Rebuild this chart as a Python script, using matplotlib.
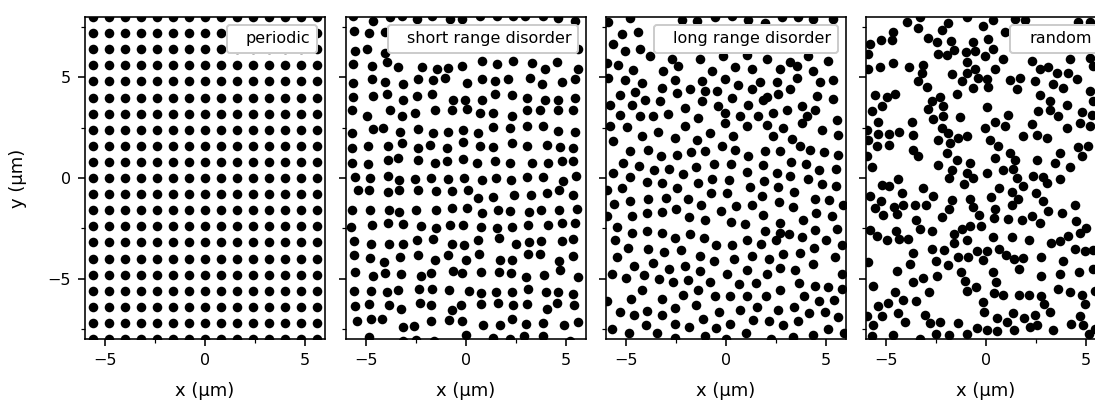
import numpy as np
import matplotlib.pyplot as plt
from matplotlib.ticker import MultipleLocator

# periodic lattice (µm)
periodic_cols = [-5.6, -4.8, -4.0, -3.2, -2.4, -1.6, -0.8, 0.0, 0.8, 1.6, 2.4, 3.2, 4.0, 4.8, 5.6]
periodic_rows = [-8.0, -7.2, -6.4, -5.6, -4.8, -4.0, -3.2, -2.4, -1.6, -0.8, 0.0,
                 0.8, 1.6, 2.4, 3.2, 4.0, 4.8, 5.6, 6.4, 7.2, 8.0]

# short range disorder, particle centres (x, y) in µm
short_range = [
    (-5.63, 8.03), (-4.63, 7.82), (-3.8, 7.98), (-3.22, 8.03), (-2.47, 7.9), (-1.72, 8.03), (-0.8, 7.9),
    (-0.22, 7.9), (0.7, 8.07), (1.53, 8.03), (2.37, 8.07), (2.95, 8.03), (3.87, 8.07), (4.62, 7.93), (5.45, 7.82),
    (-5.6, 7.32), (-4.83, 7.2), (-4.05, 7.23),
    (-5.55, 6.32), (-4.93, 6.4), (-4.05, 6.23), (5.62, 6.43),
    (-5.63, 5.65), (-4.72, 5.57), (-3.97, 5.77), (-3.38, 5.53), (-2.22, 5.53), (-1.47, 5.4), (-0.88, 5.48),
    (-0.22, 5.57), (0.78, 5.82), (1.53, 5.65), (2.37, 5.82), (3.28, 5.73), (3.95, 5.4), (4.53, 5.77), (5.62, 5.4),
    (-5.63, 4.73), (-4.72, 4.9), (-4.05, 4.77), (-3.13, 4.65), (-2.38, 4.9), (-1.63, 4.87), (-1.05, 4.98),
    (0.03, 4.7), (0.78, 4.9), (1.45, 4.82), (2.12, 4.93), (3.2, 4.98), (3.78, 4.65), (4.78, 4.77), (5.45, 4.9),
    (-5.63, 4.03), (-4.63, 4.07), (-3.97, 4.15), (-3.13, 3.9), (-2.47, 4.07), (-1.72, 4.15), (-0.63, 3.87),
    (-0.05, 3.9), (0.78, 3.9), (1.45, 4.15), (2.28, 4.1), (3.03, 3.98), (3.95, 3.87), (4.62, 3.9), (5.45, 3.98),
    (-5.72, 3.4), (-4.97, 3.1), (-3.8, 3.37), (-3.22, 3.07), (-2.55, 3.23), (-1.55, 3.4), (-0.72, 3.4),
    (0.03, 3.43), (0.7, 3.23), (1.37, 3.23), (2.28, 3.1), (3.03, 3.4), (3.7, 3.37), (4.62, 3.4), (5.37, 3.4),
    (-5.72, 2.23), (-4.63, 2.43), (-4.17, 2.48), (-3.3, 2.27), (-2.38, 2.43), (-1.63, 2.23), (-0.88, 2.27),
    (-0.13, 2.4), (0.62, 2.23), (1.37, 2.53), (2.2, 2.48), (3.03, 2.6), (3.87, 2.57), (4.62, 2.32), (5.45, 2.27),
    (-5.72, 1.48), (-4.88, 1.57), (-3.88, 1.57), (-3.22, 1.73), (-2.38, 1.48), (-1.8, 1.65), (-0.97, 1.48),
    (-0.13, 1.77), (0.7, 1.57), (1.37, 1.53), (2.28, 1.73), (3.03, 1.57), (4.03, 1.65), (4.7, 1.53), (5.37, 1.48),
    (-5.72, 0.73), (-4.88, 0.7), (-3.88, 0.9), (-3.38, 0.98), (-2.38, 0.87), (-1.55, 0.73), (-0.97, 0.82),
    (-0.13, 0.93), (0.53, 0.73), (1.45, 0.82), (2.2, 0.73), (3.28, 0.77), (4.12, 0.73), (4.78, 0.82), (5.37, 0.82),
    (-5.55, 0.07), (-4.8, 0.02), (-3.88, 0.1), (-3.33, -0.1), (-2.55, -0.05), (-1.77, -0.02), (-0.88, -0.05),
    (-0.1, -0.02), (0.82, -0.1), (1.48, -0.02), (2.23, -0.1), (3.07, 0.07), (3.87, 0.07), (4.83, -0.15), (5.48, 0.12),
    (-5.38, -0.6), (-4.83, -0.6), (-3.88, -0.68), (-3.33, -0.6), (-2.38, -0.6), (-1.5, -0.65), (-0.72, -0.65),
    (0.12, -0.6), (0.58, -0.98), (1.37, -0.95), (2.4, -0.85), (3.23, -0.82), (4.03, -0.77), (4.65, -0.6), (5.37, -0.82),
    (-5.72, -1.6), (-4.8, -1.57), (-3.87, -1.6), (-3.35, -1.68), (-2.52, -1.6), (-1.52, -1.6), (-0.68, -1.47),
    (0.07, -1.47), (0.78, -1.72), (1.58, -1.57), (2.2, -1.63), (3.15, -1.68), (3.75, -1.6), (4.65, -1.6), (5.53, -1.52),
    (-5.75, -2.43), (-4.72, -2.32), (-3.92, -2.22), (-3.13, -2.27), (-2.25, -2.4), (-1.52, -2.47), (-0.8, -2.35),
    (-0.13, -2.35), (0.73, -2.43), (1.57, -2.47), (2.32, -2.43), (3.12, -2.35), (4.12, -2.35), (4.78, -2.22), (5.45, -2.23),
    (-5.58, -3.13), (-4.75, -3.3), (-3.83, -3.27), (-3.13, -3.3), (-2.47, -3.1), (-1.63, -3.05), (-0.7, -3.28),
    (-0.08, -3.32), (0.58, -3.1), (1.63, -2.98), (2.5, -3.3), (3.17, -3.18), (3.73, -3.15), (4.78, -3.13), (5.33, -3.05),
    (-5.6, -3.85), (-4.82, -3.98), (-4.1, -4.18), (-3.28, -3.92), (-2.38, -3.85), (-1.55, -4.05), (-0.88, -3.85),
    (0.02, -4.07), (0.67, -3.8), (1.68, -4.08), (2.28, -4.07), (3.12, -3.78), (3.72, -3.8), (4.65, -4.1), (5.37, -3.9),
    (-5.53, -4.68), (-4.67, -4.85), (-4.03, -4.73), (-3.23, -4.78), (-2.23, -4.85), (-1.73, -4.73), (-0.65, -4.63),
    (-0.18, -4.72), (0.73, -4.68), (1.67, -4.68), (2.25, -4.7), (2.98, -4.9), (3.9, -4.82), (4.72, -4.57), (5.62, -4.9),
    (-5.58, -5.6), (-4.73, -5.62), (-3.93, -5.65), (-3.4, -5.55), (-2.37, -5.52), (-1.68, -5.52), (-0.83, -5.55),
    (0.17, -5.62), (0.75, -5.72), (1.52, -5.65), (2.28, -5.65), (3.1, -5.52), (4.02, -5.67), (4.6, -5.67), (5.35, -5.75),
    (-5.55, -6.38), (-4.85, -6.25), (-3.85, -6.32), (-3.25, -6.5), (-2.32, -6.23), (-1.75, -6.33), (-0.68, -6.58),
    (-0.23, -6.33), (0.77, -6.28), (1.6, -6.22), (2.37, -6.3), (3.07, -6.27), (4.05, -6.52), (4.53, -6.22), (5.4, -6.32),
    (-5.43, -7.13), (-4.77, -7.03), (-4.18, -7.02), (-3.13, -7.38), (-2.58, -7.35), (-1.75, -7.12), (-0.83, -7.05),
    (-0.2, -7.12), (0.83, -7.32), (1.72, -7.3), (2.28, -7.02), (3.0, -7.27), (3.85, -7.22), (4.9, -7.3), (5.62, -7.15),
    (-4.83, -7.9), (-3.13, -8.1), (-2.5, -8.05), (-1.6, -8.1), (0.0, -7.8), (1.37, -7.97), (2.2, -8.02),
    (2.92, -7.85), (3.83, -7.85), (5.2, -8.1),
]

# long range disorder
long_range = [
    (-5.88, 7.73), (-4.8, 7.93), (-2.22, 7.87), (-1.47, 7.82), (-0.55, 7.98), (0.28, 8.03), (1.12, 7.87),
    (1.95, 7.7), (2.78, 7.98), (3.62, 7.98), (4.37, 7.9), (5.37, 7.9),
    (-5.22, 7.15), (-4.38, 7.23), (-5.63, 6.65), (-5.05, 6.32), (-4.3, 6.4),
    (-3.8, 6.07), (-2.72, 5.9), (-1.3, 5.93), (-0.13, 6.07), (1.03, 6.1), (2.03, 5.9), (3.2, 5.77),
    (4.12, 6.07), (5.12, 5.82), (-5.97, 5.73),
    (-5.38, 5.6), (-4.63, 5.35), (-3.13, 5.32), (-2.38, 5.57), (-0.72, 5.32), (0.45, 5.53), (1.28, 5.4),
    (2.7, 5.43), (3.53, 5.57), (4.37, 5.32),
    (-5.88, 4.98), (-5.05, 4.87), (-4.22, 4.73), (-2.55, 4.87), (-1.22, 4.82), (-0.05, 4.9), (0.62, 4.6),
    (1.7, 4.77), (2.53, 4.77), (3.53, 4.98), (4.7, 4.77), (5.37, 4.87),
    (-5.3, 4.1), (-4.55, 4.27), (-3.22, 4.48), (-2.47, 4.23), (-1.8, 4.4), (-1.05, 4.32), (-0.47, 4.32),
    (0.28, 3.98), (1.28, 4.4), (2.03, 4.03), (2.62, 4.15), (3.2, 4.43), (4.53, 4.07), (5.37, 3.93),
    (-5.8, 3.65), (-4.72, 3.65), (-4.05, 3.9), (-3.3, 3.82), (-2.05, 3.48), (-1.22, 3.82), (-0.38, 3.57),
    (1.12, 3.65), (1.87, 3.87), (3.03, 3.4), (3.78, 3.57), (4.45, 3.4),
    (-5.3, 3.15), (-4.3, 3.07), (-3.63, 3.07), (-2.88, 3.2), (-1.38, 2.98), (-0.05, 3.23), (0.7, 3.1),
    (1.62, 3.07), (2.37, 3.23), (4.03, 3.07), (5.53, 2.9),
    (-5.8, 2.57), (-4.97, 2.53), (-3.38, 2.27), (-2.05, 2.6), (-0.8, 2.23), (-0.05, 2.73), (1.03, 2.57),
    (2.03, 2.65), (2.87, 2.48), (3.78, 2.73), (4.78, 2.4),
    (-4.22, 2.1), (-2.55, 1.98), (-1.47, 1.87), (0.37, 2.07), (2.37, 2.07), (3.28, 1.93), (5.62, 2.15),
    (-5.63, 1.82), (-0.22, 1.57), (3.7, 1.57),
    (-4.8, 1.35), (-3.88, 1.37), (-3.25, 1.1), (-2.47, 1.15), (-1.77, 1.27), (-1.05, 1.35), (0.45, 1.4),
    (1.12, 1.07), (1.95, 1.32), (2.7, 1.35), (4.2, 1.4), (4.9, 1.27), (5.62, 1.15),
    (-5.13, 0.73), (-4.33, 0.6), (-3.58, 0.4), (-2.83, 0.43), (-2.13, 0.18), (-1.52, 0.57), (-0.6, 0.7),
    (0.23, 0.7), (1.03, 0.32), (1.87, 0.65), (2.53, 0.27), (3.23, 0.78), (3.98, 0.7), (4.67, 0.4), (5.5, 0.43),
    (-5.67, 0.27),
    (-4.8, 0.07), (-3.93, -0.22), (-3.22, -0.23), (-2.47, -0.52), (-1.42, -0.23), (-0.68, -0.07), (0.17, -0.1),
    (1.2, -0.47), (1.92, -0.13), (2.62, -0.47), (3.2, 0.1), (4.08, -0.05), (4.78, -0.32), (5.5, -0.38),
    (-5.97, -0.6), (-5.2, -0.52),
    (-0.77, -0.73), (0.03, -0.77), (1.82, -0.9), (3.42, -0.72), (-5.58, -1.3), (-4.8, -1.15), (-3.92, -1.02),
    (-3.02, -0.98), (-1.88, -1.05), (-1.25, -1.35), (0.5, -1.37), (1.28, -1.35), (2.63, -1.2), (3.33, -1.43),
    (4.45, -1.05), (5.17, -1.07), (5.83, -1.35),
    (-4.7, -1.88), (-3.95, -1.73), (-3.2, -1.68), (-2.5, -1.52), (-1.87, -1.93), (-1.07, -2.07), (-0.27, -1.65),
    (0.25, -2.18), (0.97, -2.28), (1.83, -1.82), (2.68, -2.25), (3.85, -2.1), (4.5, -1.73), (5.28, -1.9),
    (-5.97, -1.9), (-5.43, -2.43),
    (-4.7, -2.72), (-3.95, -2.65), (-3.22, -2.75), (-2.53, -2.97), (-1.8, -2.78), (-1.1, -2.97), (1.93, -2.62),
    (2.68, -2.72), (3.13, -2.77), (3.8, -2.93), (4.47, -2.6), (5.0, -3.07), (5.53, -2.55), (-5.55, -3.1),
    (1.07, -3.1),
    (-4.88, -3.47), (-3.88, -3.55), (-3.08, -3.67), (-2.25, -3.57), (-1.3, -3.87), (-0.48, -3.35), (0.3, -3.32),
    (1.73, -3.3), (2.48, -3.1), (2.87, -3.77), (3.7, -3.73), (4.42, -3.47), (5.82, -3.35), (-5.47, -3.93),
    (-3.63, -4.22), (-0.62, -4.12), (0.42, -4.0), (1.28, -3.9), (2.13, -4.0), (5.43, -3.93),
    (-4.58, -4.35), (-2.85, -4.5), (-2.05, -4.38), (-1.3, -4.6), (-5.72, -4.77), (-5.02, -4.97), (-4.08, -4.83),
    (-3.35, -5.03), (-2.63, -5.18), (-1.88, -5.07), (-0.8, -5.18), (0.03, -4.78), (1.03, -4.57), (2.07, -4.77),
    (2.7, -4.47), (3.47, -4.55), (4.33, -4.27), (5.82, -4.77),
    (-4.22, -5.57), (-3.22, -6.0), (-2.17, -5.8), (-1.42, -5.57), (0.67, -5.27), (1.5, -5.23), (2.7, -5.57),
    (3.65, -5.23), (4.43, -5.35), (5.12, -5.4), (5.82, -5.52), (-4.77, -6.0), (-5.97, -6.13),
    (-0.55, -5.88), (0.2, -5.85), (1.07, -5.88), (1.98, -5.85), (3.92, -5.88), (4.63, -6.1), (5.42, -6.07),
    (-1.5, -6.32), (1.53, -6.4), (-2.57, -6.47), (3.4, -6.4),
    (-5.3, -6.65), (-4.6, -6.83), (-3.93, -6.63), (-3.22, -6.83), (-1.17, -7.02), (-0.33, -6.68), (0.7, -6.57),
    (2.62, -6.57), (4.13, -6.7), (4.97, -6.68), (5.62, -6.93),
    (-5.72, -7.52), (-4.87, -7.68), (-4.02, -7.32), (-3.43, -7.72), (-2.53, -7.23), (-1.83, -7.38), (-0.48, -7.43),
    (0.22, -7.27), (1.35, -7.08), (2.15, -7.1), (2.85, -7.3), (3.58, -7.12), (5.1, -7.48), (5.9, -7.68),
    (1.0, -7.68), (4.35, -7.82), (-1.07, -7.85), (-2.57, -7.93), (0.0, -8.02), (2.23, -8.02), (3.33, -7.88),
]

# random positions
random_pos = [
    (-3.97, 7.73), (-3.3, 7.98), (-3.38, 7.43), (-1.88, 7.7), (-2.22, 7.37), (-0.97, 7.98), (-0.13, 7.53),
    (0.37, 7.87), (0.95, 7.27), (1.45, 7.9), (1.95, 7.87), (4.62, 7.77), (5.2, 7.73),
    (-5.27, 6.87), (-4.72, 6.87), (-4.63, 7.27), (-2.88, 6.98), (-2.47, 6.77), (-1.77, 6.82), (-0.63, 6.77),
    (0.12, 6.93), (-5.8, 6.65),
    (-2.38, 6.18), (-1.97, 6.1), (-1.58, 6.37), (-1.0, 6.27), (-0.55, 6.32), (0.33, 6.4), (-0.05, 6.07),
    (0.87, 5.93), (2.28, 5.82), (2.7, 5.43), (3.12, 5.53), (4.2, 5.93), (5.2, 5.98), (5.37, 5.57),
    (-5.88, 6.15), (-5.3, 5.53), (-4.67, 5.7), (-3.83, 5.53), (-3.13, 5.6), (-0.97, 5.77), (-0.55, 5.43),
    (0.45, 5.4), (-5.88, 5.4),
    (-3.22, 5.23), (-1.72, 5.15), (-0.97, 5.23), (-0.38, 4.98), (0.03, 4.9), (1.2, 4.87), (1.7, 4.98),
    (3.53, 5.23), (4.12, 5.23), (4.53, 4.93),
    (-3.38, 4.82), (-2.97, 4.52), (-1.22, 4.82), (-0.63, 4.48), (0.12, 4.53), (1.53, 4.43), (2.45, 4.82),
    (3.37, 4.65), (3.87, 4.48), (5.2, 4.32),
    (-5.55, 4.1), (-4.97, 4.03), (-4.55, 4.15), (-2.72, 3.82), (-2.3, 4.02), (-1.47, 4.15), (2.7, 4.1),
    (3.2, 3.82), (4.03, 3.65), (5.37, 3.82),
    (-5.72, 3.32), (-5.22, 3.57), (-2.88, 3.43), (-2.13, 3.57), (0.03, 3.52), (1.12, 3.15), (2.62, 3.32),
    (3.2, 3.4), (3.62, 3.1), (4.78, 3.27), (5.28, 3.15),
    (-5.38, 2.77), (-5.97, 2.4), (-5.38, 2.2), (-4.83, 2.2), (-4.33, 2.27), (-3.72, 2.77), (-3.63, 2.15),
    (-2.63, 2.93), (-2.17, 3.07), (-2.22, 2.48), (-1.3, 3.02), (-0.05, 2.48), (0.45, 2.77), (0.95, 2.6),
    (1.87, 2.1), (2.28, 2.68), (2.53, 2.15), (3.03, 1.98), (4.03, 2.48), (4.7, 2.73), (5.2, 2.6),
    (-5.88, 1.9), (-5.47, 1.57), (-4.83, 1.65), (-2.38, 1.9), (-1.88, 2.23), (-1.8, 1.73), (-1.38, 1.98),
    (-0.97, 2.07), (0.2, 1.9), (0.62, 1.6), (1.2, 1.23), (3.7, 1.23), (4.62, 1.53), (4.78, 1.07), (5.12, 1.57),
    (-5.97, 1.07), (-5.72, 0.57), (-3.63, 1.4), (-3.38, 1.07), (-1.97, 1.23), (-0.8, 0.77), (0.45, 0.98),
    (1.45, 0.87), (-1.47, 0.9), (4.2, 0.57), (3.45, 0.73), (2.53, 0.9),
    (-2.38, 0.65), (-1.72, 0.4), (-0.97, 0.23), (0.03, 0.23), (0.87, 0.4), (1.37, 0.43),
    (-5.22, -0.35), (-4.83, -0.38), (-4.38, -0.05), (-3.13, -0.48), (-1.83, -0.02), (-1.1, -0.32), (-0.63, 0.02),
    (1.53, -0.02), (1.87, -0.38), (2.37, 0.12), (2.83, 0.07), (3.07, -0.27), (3.7, -0.05),
    (-5.8, -0.88), (-5.27, -1.15), (-4.22, -0.77), (-2.67, -0.88), (-1.72, -1.1), (-0.8, -1.02), (0.23, -0.93),
    (0.67, -0.52), (1.28, -0.68), (1.62, -1.02), (2.5, -0.77), (2.83, -1.15),
    (-5.55, -1.48), (-5.13, -1.85), (-4.6, -1.43), (-4.43, -1.8), (-4.13, -1.32), (-3.55, -1.32), (-3.02, -1.32),
    (-3.5, -2.07), (-2.22, -1.93), (-1.85, -1.55), (-0.67, -1.43), (-0.33, -1.85), (0.45, -1.52), (0.42, -1.98),
    (1.12, -2.02), (1.28, -1.35), (1.82, -2.07), (2.28, -1.9), (2.72, -2.22), (3.12, -1.65), (3.8, -1.73),
    (4.47, -1.35), (4.52, -2.12), (4.98, -2.48), (4.68, -2.73), (4.12, -2.88), (3.7, -3.13), (3.25, -3.22),
    (-5.8, -2.6), (-5.43, -2.88), (-4.97, -3.08), (-4.48, -2.65), (-4.35, -3.05), (-3.88, -3.02), (-3.3, -2.55),
    (-2.72, -2.63), (-1.58, -2.78), (-1.2, -2.52), (-0.78, -2.4), (-0.27, -2.4), (-0.93, -3.08), (-1.62, -3.25),
    (-2.08, -3.6), (-2.68, -3.52), (-3.63, -3.75), (-3.8, -4.27), (-4.47, -4.6), (-2.52, -4.12), (-1.88, -4.32),
    (-2.45, -4.88), (-3.17, -4.98), (-3.63, -5.18), (-2.85, -5.68), (-1.27, -4.65), (-1.05, -5.13), (-0.93, -5.6),
    (-0.48, -5.4), (-1.38, -3.93), (-0.92, -3.93), (-0.43, -3.63), (-0.13, -4.07), (0.03, -3.62), (0.33, -2.95),
    (0.63, -3.55), (1.0, -3.83), (1.28, -2.93), (1.42, -4.02), (1.63, -4.52), (1.83, -3.98), (2.15, -3.07),
    (2.73, -3.93), (2.73, -4.88), (3.87, -4.1), (3.7, -4.77), (4.43, -3.53), (4.93, -3.65), (5.37, -3.57),
    (5.37, -4.52), (4.67, -4.65),
    (-5.88, -4.18), (-5.67, -5.38), (-5.38, -6.38), (-5.22, -6.85), (-4.88, -6.22), (-4.55, -5.68), (-4.17, -6.07),
    (-4.4, -6.72), (-4.05, -7.18), (-3.52, -6.13), (-3.05, -6.8), (-2.78, -7.22), (-2.3, -7.18), (-1.38, -7.22),
    (-0.97, -7.77), (-0.47, -7.43), (-0.17, -6.15), (-0.1, -6.65), (0.37, -4.68), (0.5, -5.18), (0.38, -5.72),
    (0.85, -5.82), (0.55, -6.97), (1.05, -7.18), (1.33, -6.73), (1.4, -7.55), (1.88, -6.98), (2.18, -7.38),
    (1.67, -5.82), (2.15, -5.82), (2.53, -7.32), (2.47, -6.82), (2.73, -5.85), (2.92, -6.27), (3.18, -6.68),
    (3.33, -7.55), (3.6, -5.52), (4.18, -5.68), (4.8, -5.82), (4.93, -6.27), (4.7, -6.85), (4.85, -7.32),
    (4.23, -7.27), (5.17, -7.77), (5.45, -5.6), (5.45, -7.52), (-5.72, -7.85), (-4.63, -7.78), (-3.3, -7.98),
    (-2.5, -7.77), (-1.87, -7.8), (0.05, -7.55), (0.55, -7.6), (-5.97, -6.85), (-5.63, -7.3),
]

titles = ["periodic", "short range disorder", "long range disorder", "random"]

px, py = np.meshgrid(periodic_cols, periodic_rows)
patterns = [
    (px.ravel(), py.ravel()),
    tuple(np.array(short_range).T),
    tuple(np.array(long_range).T),
    tuple(np.array(random_pos).T),
]

fig = plt.figure(figsize=(1095 / 144, 401 / 144), dpi=144)
lefts = [85, 346, 606, 866]

for i, (xs, ys) in enumerate(patterns):
    ax = fig.add_axes([lefts[i] / 1095, 62 / 401, 240 / 1095, 322 / 401])
    ax.scatter(xs, ys, s=23, c="k", linewidths=0)
    ax.plot([], [], " ", label=titles[i])
    ax.legend(loc="upper right", handlelength=0, fontsize=8, framealpha=1)
    ax.set_xlim(-6, 6)
    ax.set_ylim(-8, 8)
    ax.xaxis.set_major_locator(MultipleLocator(5))
    ax.xaxis.set_minor_locator(MultipleLocator(2.5))
    ax.yaxis.set_major_locator(MultipleLocator(5))
    ax.yaxis.set_minor_locator(MultipleLocator(2.5))
    ax.tick_params(labelsize=8)
    ax.set_xlabel("x (µm)", fontsize=9, labelpad=7)
    if i == 0:
        ax.set_ylabel("y (µm)", fontsize=9, labelpad=10)
    else:
        ax.tick_params(labelleft=False)

fig.savefig("out.png", dpi=144)
